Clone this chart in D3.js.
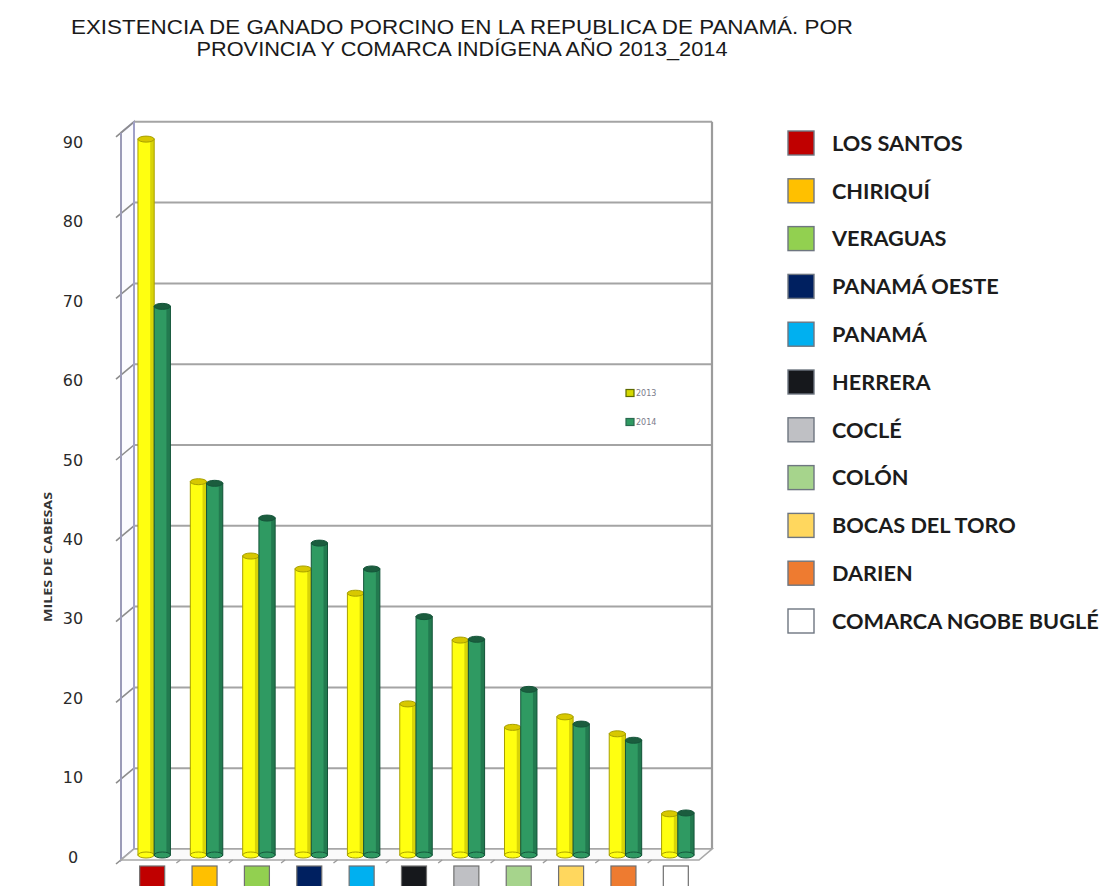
<!DOCTYPE html>
<html>
<head>
<meta charset="utf-8">
<script src="https://cdn.jsdelivr.net/npm/d3@7/dist/d3.min.js"></script>
<style>
  html, body { margin: 0; padding: 0; background: #ffffff; }
  svg { display: block; }
</style>
</head>
<body>
<svg id="chart" width="1106" height="886"></svg>
<script>
// ---------------- DATA ----------------
const titleLines = [
  "EXISTENCIA DE GANADO PORCINO EN LA REPUBLICA  DE PANAMÁ. POR",
  "PROVINCIA Y COMARCA INDÍGENA AÑO 2013_2014"
];
const yAxisTitle = "MILES DE CABESAS";
const categories = ["LOS SANTOS", "CHIRIQUÍ", "VERAGUAS", "PANAMÁ OESTE", "PANAMÁ", "HERRERA",
                    "COCLÉ", "COLÓN", "BOCAS DEL TORO", "DARIEN", "COMARCA NGOBE BUGLÉ"];
const years = ["2013", "2014"];
const values2013 = [88.6, 46.2, 37.0, 35.4, 32.4, 18.7, 26.6, 15.8, 17.1, 15.0, 5.1];
const values2014 = [67.9, 46.0, 41.7, 38.6, 35.4, 29.5, 26.7, 20.5, 16.2, 14.2, 5.2];
const yTicks = [0, 10, 20, 30, 40, 50, 60, 70, 80, 90];

// ---------------- STYLE ----------------
const categoryColors = ["#c00000", "#ffc000", "#92d050", "#002060", "#00b0f0", "#16181c",
                        "#bfc0c4", "#a6d48c", "#ffd75e", "#ee7b30", "#ffffff"];
const yearFill   = { "2013": "#ffff10", "2014": "#2f9a62" };
const yearDark   = { "2013": "#a8a000", "2014": "#15553a" };
const yearCap    = { "2013": "#d8c800", "2014": "#1b5d3e" };

const svg = d3.select("#chart");

// 3D-ish geometry
const FRONT_DY = 5, BACK_DY = -6, BACK_DX = 13;
const frontX = 121, backX = frontX + BACK_DX, rightX = 712;

const y = d3.scaleLinear().domain([0, 90]).range([855, 855 - 8.08 * 90]);
const yLabel = d3.scaleLinear().domain([0, 90]).range([857, 142]);
const x = d3.scaleBand().domain(categories).range([128, 704]).paddingInner(0.38).paddingOuter(0.19);
const xs = d3.scaleBand().domain(years).range([0, x.bandwidth()]);

const series = years.map((yr, i) => ({ year: yr, values: i === 0 ? values2013 : values2014 }));

// ---------- Title ----------
const title = svg.append("g");
titleLines.forEach((t, i) => {
  title.append("text")
    .attr("x", 462).attr("y", 34 + i * 22)
    .attr("text-anchor", "middle")
    .attr("font-family", "Liberation Sans, Arial, sans-serif")
    .attr("font-size", 19.5)
    .attr("fill", "#1a1a1a")
    .attr("textLength", i === 0 ? 782 : 531)
    .attr("lengthAdjust", "spacingAndGlyphs")
    .text(t);
});

// ---------- Walls ----------
const walls = svg.append("g");
// back wall
walls.append("rect")
  .attr("x", backX).attr("y", y(90) + BACK_DY)
  .attr("width", rightX - backX).attr("height", y(0) - y(90))
  .attr("fill", "#ffffff");
// side wall
walls.append("polygon")
  .attr("points", [
    [frontX, y(0) + FRONT_DY], [frontX, y(90) + FRONT_DY],
    [backX, y(90) + BACK_DY], [backX, y(0) + BACK_DY]
  ].map(p => p.join(",")).join(" "))
  .attr("fill", "#fbfbff").attr("stroke", "#a9a9c8").attr("stroke-width", 2);

// back wall gridlines
walls.selectAll("line.grid").data(yTicks).join("line")
  .attr("class", "grid")
  .attr("x1", backX).attr("x2", rightX)
  .attr("y1", d => y(d) + BACK_DY).attr("y2", d => y(d) + BACK_DY)
  .attr("stroke", "#a4a4a4").attr("stroke-width", 2);

// side wall gridlines / ticks
walls.selectAll("line.sgrid").data(yTicks).join("line")
  .attr("class", "sgrid")
  .attr("x1", frontX - 5).attr("y1", d => y(d) + FRONT_DY + 4)
  .attr("x2", backX).attr("y2", d => y(d) + BACK_DY)
  .attr("stroke", "#8c8c8c").attr("stroke-width", 1.6);

// right wall edge
walls.append("line")
  .attr("x1", rightX).attr("x2", rightX)
  .attr("y1", y(90) + BACK_DY).attr("y2", y(0) + BACK_DY)
  .attr("stroke", "#9c9c9c").attr("stroke-width", 2.2);
// back wall left edge
walls.append("line")
  .attr("x1", backX).attr("x2", backX)
  .attr("y1", y(90) + BACK_DY).attr("y2", y(0) + BACK_DY)
  .attr("stroke", "#a0a0c8").attr("stroke-width", 2);
// front axis line
walls.append("line")
  .attr("x1", frontX).attr("x2", frontX)
  .attr("y1", y(90) + FRONT_DY).attr("y2", y(0) + FRONT_DY)
  .attr("stroke", "#9a9ab8").attr("stroke-width", 2);

// floor
walls.append("polygon")
  .attr("points", [
    [frontX, y(0) + FRONT_DY], [rightX - BACK_DX, y(0) + FRONT_DY],
    [rightX, y(0) + BACK_DY], [backX, y(0) + BACK_DY]
  ].map(p => p.join(",")).join(" "))
  .attr("fill", "#fafafa").attr("stroke", "#a8a8a8").attr("stroke-width", 1.6);

// floor tick marks between categories
walls.selectAll("line.ftick").data(categories.slice(1)).join("line")
  .attr("class", "ftick")
  .attr("x1", d => x(d) - x.step() * x.paddingInner() / 2 - 4)
  .attr("x2", d => x(d) - x.step() * x.paddingInner() / 2)
  .attr("y1", y(0) + FRONT_DY + 3).attr("y2", y(0) + FRONT_DY)
  .attr("stroke", "#9a9a9a").attr("stroke-width", 1.4);

// ---------- Y labels ----------
svg.append("g").selectAll("text").data(yTicks).join("text")
  .attr("x", 73).attr("y", d => yLabel(d))
  .attr("dy", "0.36em")
  .attr("text-anchor", "middle")
  .attr("font-family", "DejaVu Sans, Verdana, sans-serif")
  .attr("font-size", 16)
  .attr("fill", "#2a2a2a")
  .text(d => d);

svg.append("text")
  .attr("transform", "translate(52,557) rotate(-90)")
  .attr("text-anchor", "middle")
  .attr("font-family", "Open Sans, sans-serif")
  .attr("font-weight", "bold")
  .attr("font-size", 11)
  .attr("fill", "#333")
  .attr("textLength", 130)
  .attr("lengthAdjust", "spacingAndGlyphs")
  .text(yAxisTitle);

// ---------- Bars ----------
const barsG = svg.append("g");
series.forEach(s => {
  const g = barsG.append("g");
  const bw = xs.bandwidth();
  const data = categories.map((c, i) => ({ cat: c, v: s.values[i] }));
  // body
  g.selectAll("rect.body").data(data).join("rect")
    .attr("class", "body")
    .attr("x", d => x(d.cat) + xs(s.year))
    .attr("y", d => y(d.v))
    .attr("width", bw)
    .attr("height", d => y(0) - y(d.v))
    .attr("fill", yearFill[s.year])
    .attr("stroke", yearDark[s.year]).attr("stroke-width", 1);
  // right shading strip
  g.selectAll("rect.side").data(data).join("rect")
    .attr("class", "side")
    .attr("x", d => x(d.cat) + xs(s.year) + bw - 4)
    .attr("y", d => y(d.v))
    .attr("width", 4)
    .attr("height", d => y(0) - y(d.v))
    .attr("fill", yearDark[s.year]).attr("opacity", 0.45);
  // bottom rounding
  g.selectAll("ellipse.bot").data(data).join("ellipse")
    .attr("class", "bot")
    .attr("cx", d => x(d.cat) + xs(s.year) + bw / 2)
    .attr("cy", y(0))
    .attr("rx", bw / 2).attr("ry", 3)
    .attr("fill", yearFill[s.year]).attr("stroke", yearDark[s.year]).attr("stroke-width", 1);
  // top cap
  g.selectAll("ellipse.cap").data(data).join("ellipse")
    .attr("class", "cap")
    .attr("cx", d => x(d.cat) + xs(s.year) + bw / 2)
    .attr("cy", d => y(d.v))
    .attr("rx", bw / 2).attr("ry", 3)
    .attr("fill", yearCap[s.year]).attr("stroke", yearDark[s.year]).attr("stroke-width", 1);
});

// ---------- Category swatches under axis ----------
svg.append("g").selectAll("rect").data(categories).join("rect")
  .attr("x", d => x(d) + x.bandwidth() / 2 - 2 - 12.5)
  .attr("y", 866)
  .attr("width", 25).attr("height", 26)
  .attr("fill", (d, i) => categoryColors[i])
  .attr("stroke", "#707070").attr("stroke-width", 1.2);

// ---------- Inner year legend ----------
const yl = svg.append("g");
const ly = d3.scalePoint().domain(years).range([393, 422]);
yl.selectAll("rect").data(years).join("rect")
  .attr("x", 626).attr("y", d => ly(d) - 3.5)
  .attr("width", 8).attr("height", 7)
  .attr("fill", d => d === "2013" ? "#d4d800" : yearFill[d])
  .attr("stroke", d => d === "2013" ? "#5d6a00" : "#2a6a50").attr("stroke-width", 1.2);
yl.selectAll("text").data(years).join("text")
  .attr("x", 636).attr("y", d => ly(d)).attr("dy", "0.35em")
  .attr("font-family", "DejaVu Sans, sans-serif")
  .attr("font-size", 8).attr("fill", "#7a7a8a")
  .text(d => d);

// ---------- Right legend ----------
const lg = svg.append("g");
const legY = d3.scalePoint().domain(categories).range([143, 621]);
lg.selectAll("rect").data(categories).join("rect")
  .attr("x", 788).attr("y", d => legY(d) - 12)
  .attr("width", 26).attr("height", 24)
  .attr("fill", (d, i) => categoryColors[i])
  .attr("stroke", "#6e7680").attr("stroke-width", 1.4);
const legText = lg.selectAll("text").data(categories).join("text")
  .attr("x", 832).attr("y", d => legY(d)).attr("dy", "0.36em")
  .attr("font-family", "Lato, Open Sans, sans-serif")
  .attr("font-weight", "bold")
  .attr("font-size", 20)
  .attr("fill", "#1c1c1c")
  .text(d => d);
// fit font size so that "BOCAS DEL TORO" spans ~184px like the reference
const refNode = legText.filter(d => d === "BOCAS DEL TORO").node();
const w = refNode.getComputedTextLength();
legText.attr("font-size", 20 * 184 / w);
</script>
</body>
</html>
